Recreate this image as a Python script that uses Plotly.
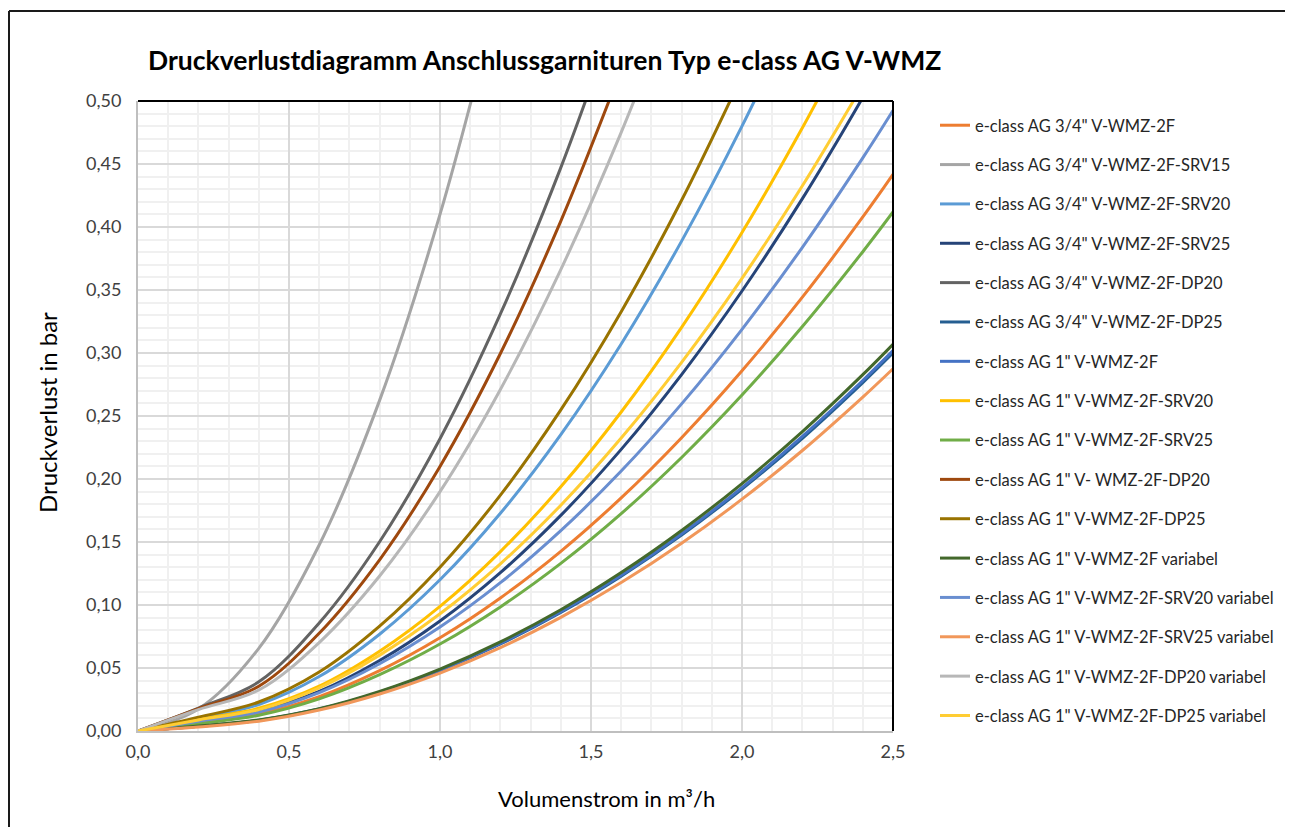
import plotly.graph_objects as go

# Volumenstrom in m³/h (sample points)
flow = [0.0, 0.2, 0.4, 0.6, 0.8, 1.0, 1.2, 1.4, 1.6, 1.8, 2.0, 2.2, 2.4, 2.5]

# Druckverlust in bar
dp_34_2F       = [0, 0.0065, 0.0135, 0.0273, 0.0479, 0.074, 0.1056, 0.1426, 0.185, 0.2328, 0.2859, 0.3443, 0.408, 0.4418]
dp_34_SRV15    = [0, 0.0175, 0.0656, 0.1476, 0.2624, 0.41, 0.5904]
dp_34_SRV20    = [0, 0.0100, 0.0210, 0.0432, 0.0768, 0.12, 0.1728, 0.2352, 0.3072, 0.3888, 0.48, 0.5808]
dp_34_SRV25    = [0, 0.0085, 0.0160, 0.0314, 0.0559, 0.0873, 0.1257, 0.1711, 0.2235, 0.2829, 0.3492, 0.4225, 0.5028, 0.5456]
dp_34_DP20     = [0, 0.0182, 0.0390, 0.0857, 0.1502, 0.232, 0.331, 0.4471, 0.5801]
dp_34_DP25     = [0, 0.0038, 0.0084, 0.0173, 0.0307, 0.0480, 0.0691, 0.0941, 0.1229, 0.1555, 0.1920, 0.2323, 0.2765, 0.3000]
dp_1_2F        = [0, 0.0038, 0.0085, 0.0174, 0.0309, 0.0483, 0.0696, 0.0947, 0.1236, 0.1565, 0.1932, 0.2338, 0.2782, 0.3019]
dp_1_SRV20     = [0, 0.0092, 0.0180, 0.0356, 0.0633, 0.0989, 0.1424, 0.1938, 0.2532, 0.3204, 0.3956, 0.4787, 0.5697]
dp_1_SRV25     = [0, 0.0058, 0.0125, 0.0255, 0.0447, 0.069, 0.0985, 0.133, 0.1725, 0.2171, 0.2666, 0.321, 0.3804, 0.4119]
dp_1_DP20      = [0, 0.0178, 0.0355, 0.0776, 0.1359, 0.21, 0.2996, 0.4047, 0.5251]
dp_1_DP25      = [0, 0.0110, 0.0230, 0.0468, 0.0832, 0.13, 0.1872, 0.2548, 0.3328, 0.4212, 0.52]
dp_1_2F_var    = [0, 0.0040, 0.0088, 0.0177, 0.0314, 0.0491, 0.0707, 0.0962, 0.1257, 0.1591, 0.1964, 0.2376, 0.2828, 0.3069]
dp_1_SRV20_var = [0, 0.0078, 0.0150, 0.0305, 0.0534, 0.0825, 0.1177, 0.159, 0.2063, 0.2596, 0.3188, 0.3839, 0.4549, 0.4925]
dp_1_SRV25_var = [0, 0.0032, 0.0078, 0.0166, 0.0294, 0.046, 0.0662, 0.0902, 0.1178, 0.149, 0.184, 0.2226, 0.265, 0.2875]
dp_1_DP20_var  = [0, 0.0170, 0.0325, 0.0702, 0.123, 0.19, 0.2711, 0.3662, 0.4751, 0.5978]
dp_1_DP25_var  = [0, 0.0088, 0.0170, 0.0343, 0.0602, 0.093, 0.1327, 0.1792, 0.2325, 0.2926, 0.3593, 0.4327, 0.5128]

series_names = [
    'e-class AG 3/4" V-WMZ-2F',
    'e-class AG 3/4" V-WMZ-2F-SRV15',
    'e-class AG 3/4" V-WMZ-2F-SRV20',
    'e-class AG 3/4" V-WMZ-2F-SRV25',
    'e-class AG 3/4" V-WMZ-2F-DP20',
    'e-class AG 3/4" V-WMZ-2F-DP25',
    'e-class AG 1" V-WMZ-2F',
    'e-class AG 1" V-WMZ-2F-SRV20',
    'e-class AG 1" V-WMZ-2F-SRV25',
    'e-class AG 1" V- WMZ-2F-DP20',
    'e-class AG 1" V-WMZ-2F-DP25',
    'e-class AG 1" V-WMZ-2F variabel',
    'e-class AG 1" V-WMZ-2F-SRV20 variabel',
    'e-class AG 1" V-WMZ-2F-SRV25 variabel',
    'e-class AG 1" V-WMZ-2F-DP20 variabel',
    'e-class AG 1" V-WMZ-2F-DP25 variabel',
]
series_values = [dp_34_2F, dp_34_SRV15, dp_34_SRV20, dp_34_SRV25, dp_34_DP20, dp_34_DP25,
                 dp_1_2F, dp_1_SRV20, dp_1_SRV25, dp_1_DP20, dp_1_DP25, dp_1_2F_var,
                 dp_1_SRV20_var, dp_1_SRV25_var, dp_1_DP20_var, dp_1_DP25_var]
series_colors = ['#ED7D31', '#A5A5A5', '#5B9BD5', '#264478', '#636363', '#255E91',
                 '#4472C4', '#FFC000', '#70AD47', '#9E480E', '#997300', '#43682B',
                 '#698ED0', '#F1975A', '#B7B7B7', '#FFCD33']

x_ticks = [0.0, 0.5, 1.0, 1.5, 2.0, 2.5]
y_ticks = [0.00, 0.05, 0.10, 0.15, 0.20, 0.25, 0.30, 0.35, 0.40, 0.45, 0.50]

FONT = 'Lato'
OFF = 8                      # page body margin
W, H = 1293 - OFF, 827 - OFF
L, R, T, B = 138, 893, 101, 731   # plot area in page pixels

def px(xp):
    return (xp - L) / (R - L)

def py(yp):
    return (B - yp) / (B - T)

def cx(xp):
    return (xp - OFF) / W

def cy(yp):
    return 1 - (yp - OFF) / H

fig = go.Figure()
for i, (name, vals, col) in enumerate(zip(series_names, series_values, series_colors)):
    fig.add_trace(go.Scatter(
        x=flow[:len(vals)], y=vals, name=name, mode='lines',
        line=dict(color=col, width=3, shape='spline', smoothing=1.0),
        legendgroup='g%d' % i,
    ))

fig.update_layout(
    width=W, height=H,
    margin=dict(l=L - OFF, r=W - (R - OFF), t=T - OFF, b=H - (B - OFF), autoexpand=False),
    paper_bgcolor='white', plot_bgcolor='white',
    font=dict(family=FONT, size=15, color='#262626'),
    separators=',.',
    showlegend=True,
    legend=dict(
        x=cx(935), xanchor='left', xref='container',
        y=cy(108), yanchor='top', yref='container',
        maxheight=760,
        font=dict(family=FONT, size=16.5, color='#262626'),
        traceorder='grouped', tracegroupgap=14.9,
        itemwidth=30, bgcolor='rgba(0,0,0,0)',
    ),
    title=dict(
        text='<b>Druckverlustdiagramm Anschlussgarnituren Typ e-class AG V-WMZ</b>',
        x=cx(148), xanchor='left', xref='container',
        y=cy(61), yanchor='middle', yref='container',
        font=dict(family=FONT, size=26.5, color='#000000'),
    ),
    xaxis=dict(
        range=[0, 2.5], tickvals=x_ticks, tickformat='.1f',
        showgrid=True, gridcolor='#D9D9D9', gridwidth=2,
        minor=dict(dtick=0.1, showgrid=True, gridcolor='#F0F0F0', gridwidth=2),
        showline=True, linecolor='#BFBFBF', linewidth=2,
        zeroline=False, ticks='', ticklabelstandoff=3,
        tickfont=dict(family=FONT, size=18, color='#404040'),
    ),
    yaxis=dict(
        range=[0, 0.5], tickvals=y_ticks, tickformat='.2f',
        showgrid=True, gridcolor='#D9D9D9', gridwidth=2,
        minor=dict(dtick=0.01, showgrid=True, gridcolor='#F0F0F0', gridwidth=2),
        showline=True, linecolor='#BFBFBF', linewidth=2,
        zeroline=False, ticks='', ticklabelstandoff=11,
        tickfont=dict(family=FONT, size=18, color='#404040'),
    ),
    annotations=[
        dict(text='Druckverlust in bar', xref='paper', yref='paper',
             x=px(47), y=py(413), textangle=-90, showarrow=False,
             xanchor='center', yanchor='middle',
             font=dict(family=FONT, size=24, color='#000000')),
        dict(text='Volumenstrom in m³/h', xref='paper', yref='paper',
             x=px(606), y=py(798), showarrow=False,
             xanchor='center', yanchor='middle',
             font=dict(family=FONT, size=22, color='#000000')),
    ],
    shapes=[
        # plot area top and right border
        dict(type='line', xref='paper', yref='paper', x0=0, x1=1, y0=1, y1=1,
             line=dict(color='#000000', width=2), layer='above'),
        dict(type='line', xref='paper', yref='paper', x0=1, x1=1, y0=0, y1=1,
             line=dict(color='#000000', width=2), layer='above'),
        # outer chart border
        dict(type='line', xref='paper', yref='paper', x0=px(9), x1=px(1310), y0=py(11), y1=py(11),
             line=dict(color='#1a1a1a', width=2)),
        dict(type='line', xref='paper', yref='paper', x0=px(9), x1=px(9), y0=py(11), y1=py(850),
             line=dict(color='#1a1a1a', width=2)),
    ],
)

fig.write_html('out.html')
